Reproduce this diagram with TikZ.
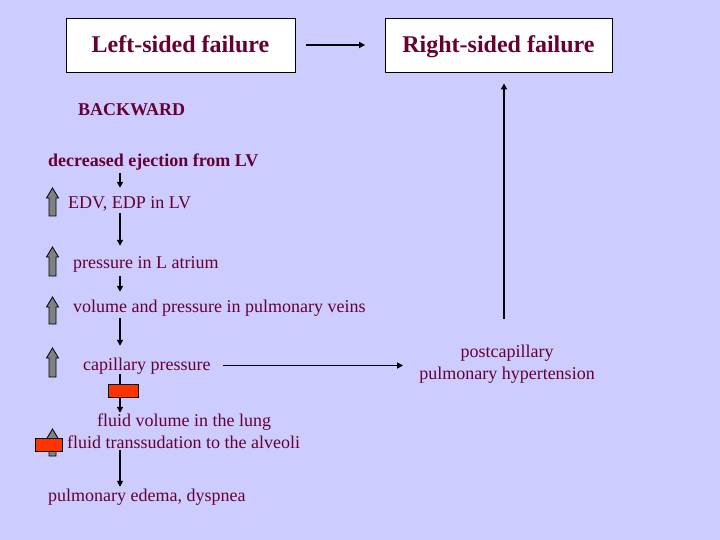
\documentclass[tikz,border=0pt]{standalone}
\usepackage{fontspec}
\setmainfont{Liberation Serif}
\usetikzlibrary{arrows.meta}
\definecolor{slidebg}{HTML}{CCCCFF}
\definecolor{textred}{HTML}{660033}
\definecolor{blockred}{HTML}{FF3300}

\begin{document}
\begin{tikzpicture}[x=1pt, y=-1pt]
  \tikzset{
    title_node/.style={draw, fill=white, line width=0.8pt, minimum width=229pt, minimum height=54pt, text height=16pt, text depth=0pt, text=textred, font=\fontsize{24}{28}\selectfont\bfseries},
    step_text/.style={anchor=base west, inner sep=0pt, text height=13pt, text depth=4pt, text=textred, font=\fontsize{18}{22}\selectfont},
    bold_text/.style={step_text, font=\fontsize{18}{22}\selectfont\bfseries},
    flow_arrow/.style={line width=1.6pt, -{Triangle[length=6pt, width=6pt]}},
    flow_line/.style={line width=1.6pt},
    red_block/.style={draw, fill=blockred, line width=0.6pt, minimum width=30pt, minimum height=13pt, inner sep=0pt},
    gray_arrow/.style={draw, fill=gray, line width=0.8pt}
  }

  % fondo
  \fill[slidebg] (0,0) rectangle (720,540);
  \useasboundingbox (0,0) rectangle (720,540);

  % cajas de arriba
  \node[title_node] (lsf) at (180.5,45) {Left-sided failure};
  \node[title_node, minimum width=227pt] (rsf) at (498.5,45) {Right-sided failure};

  % cadena de la izquierda
  \node[bold_text] (backward) at (78,116) {BACKWARD};
  \node[bold_text] (dec) at (48,167) {decreased ejection from LV};
  \node[step_text] (edv) at (68,209) {EDV, EDP in LV};
  \node[step_text] (atr) at (73,268) {pressure in L atrium};
  \node[step_text] (vein) at (73,312) {volume and pressure in pulmonary veins};
  \node[step_text] (cap) at (83,370) {capillary pressure};
  \node[step_text] (lung) at (97,426) {fluid volume in the lung};
  \node[step_text] (trans) at (67,448) {fluid transsudation to the alveoli};
  \node[step_text] (edema) at (48,501) {pulmonary edema, dyspnea};

  % texto de la derecha
  \node[text=textred, font=\fontsize{18}{22}\selectfont, align=center, inner sep=0pt] (post) at (507,364) {postcapillary\\pulmonary hypertension};

  \node[red_block] (r1) at (123,390.5) {};
  \coordinate (spine) at (120,0);

  % flechas grises
  \foreach \ya/\yb in {188/216, 247/276, 297/324, 348/377, 429/456}
    \draw[gray_arrow] (52.5,\ya) -- (58.5,\ya+10) -- (56,\ya+10) -- (56,\yb) -- (49,\yb) -- (49,\ya+10) -- (46.5,\ya+10) -- cycle;
  \node[red_block, minimum width=27pt] (r2) at (49,444.5) {};

  % conexiones
  \draw[flow_arrow, shorten <=11pt, shorten >=19.5pt] (lsf) -- (rsf);
  \draw[flow_arrow, shorten <=2pt, shorten >=8pt] (dec.south -| spine) -- (edv.north -| spine);
  \draw[flow_arrow, shorten >=9pt] (edv.south -| spine) -- (atr.north -| spine);
  \draw[flow_arrow, shorten <=4pt, shorten >=7pt] (atr.south -| spine) -- (vein.north -| spine);
  \draw[flow_arrow, shorten <=2pt, shorten >=11pt] (vein.south -| spine) -- (cap.north -| spine);
  \draw[flow_line] (cap.south -| spine) -- (r1.north -| spine);
  \draw[flow_arrow] (r1.south -| spine) -- (lung.north -| spine);
  \draw[flow_arrow, shorten <=-2pt, shorten >=1pt] (trans.south -| spine) -- (edema.north -| spine);
  \draw[flow_arrow, shorten <=12.5pt, shorten >=16pt] (cap.east) -- (cap.east -| post.west);
  \draw[flow_arrow] ([xshift=-3pt, yshift=26pt]post.north) -- ([xshift=5.5pt, yshift=-11pt]rsf.south);
\end{tikzpicture}
\end{document}
